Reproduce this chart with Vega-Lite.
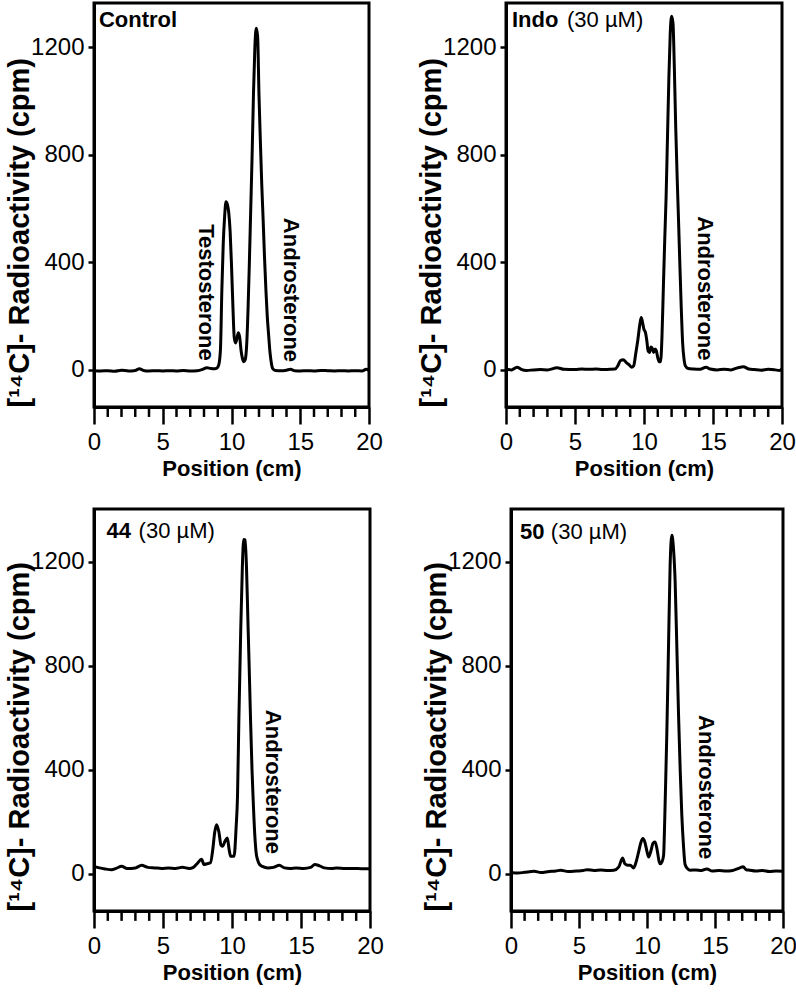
{
  "$schema": "https://vega.github.io/schema/vega-lite/v6.json",
  "background": "white",
  "padding": {"left": 3, "top": 1, "right": 0, "bottom": 0},
  "config": {
    "font": "Liberation Sans",
    "view": {"stroke": "black", "strokeWidth": 3},
    "axis": {"domainColor": "black", "domainWidth": 3, "tickColor": "black", "labelColor": "black", "titleColor": "black", "grid": false, "labelFont": "Liberation Sans", "titleFont": "Liberation Sans"},
    "text": {"font": "Liberation Sans", "fontSize": 22, "color": "black"}
  },
  "datasets": {
    "minor": [{"pos": 1}, {"pos": 2}, {"pos": 3}, {"pos": 4}, {"pos": 6}, {"pos": 7}, {"pos": 8}, {"pos": 9}, {"pos": 11}, {"pos": 12}, {"pos": 13}, {"pos": 14}, {"pos": 16}, {"pos": 17}, {"pos": 18}, {"pos": 19}],
    "control": [
      {"pos": 0, "cpm": -3}, {"pos": 0.5, "cpm": -4}, {"pos": 1, "cpm": -3}, {"pos": 1.5, "cpm": -5}, {"pos": 2, "cpm": -1}, {"pos": 2.5, "cpm": -4}, {"pos": 3, "cpm": -2}, {"pos": 3.3, "cpm": 4}, {"pos": 3.6, "cpm": -2}, {"pos": 4, "cpm": -4}, {"pos": 4.5, "cpm": -3}, {"pos": 5, "cpm": -4}, {"pos": 5.5, "cpm": -3}, {"pos": 6, "cpm": -4}, {"pos": 6.5, "cpm": -2}, {"pos": 7, "cpm": -4}, {"pos": 7.5, "cpm": -3}, {"pos": 7.9, "cpm": 2}, {"pos": 8.2, "cpm": 8}, {"pos": 8.5, "cpm": 5}, {"pos": 8.8, "cpm": 4}, {"pos": 9.0, "cpm": 10}, {"pos": 9.1, "cpm": 25}, {"pos": 9.2, "cpm": 80}, {"pos": 9.3, "cpm": 300}, {"pos": 9.4, "cpm": 470}, {"pos": 9.5, "cpm": 570}, {"pos": 9.6, "cpm": 625}, {"pos": 9.7, "cpm": 615}, {"pos": 9.8, "cpm": 585}, {"pos": 9.9, "cpm": 515}, {"pos": 10.0, "cpm": 390}, {"pos": 10.1, "cpm": 240}, {"pos": 10.2, "cpm": 120}, {"pos": 10.3, "cpm": 100}, {"pos": 10.4, "cpm": 118}, {"pos": 10.5, "cpm": 138}, {"pos": 10.6, "cpm": 120}, {"pos": 10.7, "cpm": 70}, {"pos": 10.8, "cpm": 42}, {"pos": 10.9, "cpm": 30}, {"pos": 11.0, "cpm": 38}, {"pos": 11.1, "cpm": 90}, {"pos": 11.2, "cpm": 220}, {"pos": 11.3, "cpm": 400}, {"pos": 11.4, "cpm": 600}, {"pos": 11.5, "cpm": 800}, {"pos": 11.6, "cpm": 1030}, {"pos": 11.7, "cpm": 1200}, {"pos": 11.8, "cpm": 1270}, {"pos": 11.9, "cpm": 1240}, {"pos": 12.0, "cpm": 1020}, {"pos": 12.1, "cpm": 850}, {"pos": 12.2, "cpm": 690}, {"pos": 12.3, "cpm": 560}, {"pos": 12.4, "cpm": 420}, {"pos": 12.5, "cpm": 300}, {"pos": 12.6, "cpm": 200}, {"pos": 12.7, "cpm": 130}, {"pos": 12.8, "cpm": 65}, {"pos": 12.9, "cpm": 25}, {"pos": 13.0, "cpm": 5}, {"pos": 13.2, "cpm": -2}, {"pos": 13.6, "cpm": -3}, {"pos": 14.0, "cpm": -1}, {"pos": 14.3, "cpm": 2}, {"pos": 14.6, "cpm": -3}, {"pos": 15, "cpm": -4}, {"pos": 15.5, "cpm": -3}, {"pos": 16, "cpm": -4}, {"pos": 16.5, "cpm": -2}, {"pos": 17, "cpm": -3}, {"pos": 17.5, "cpm": -4}, {"pos": 18, "cpm": -3}, {"pos": 18.5, "cpm": -4}, {"pos": 19, "cpm": -3}, {"pos": 19.5, "cpm": -4}, {"pos": 19.8, "cpm": 2}, {"pos": 20, "cpm": -2}
    ],
    "indo": [
      {"pos": 0, "cpm": 2}, {"pos": 0.4, "cpm": 0}, {"pos": 0.8, "cpm": 10}, {"pos": 1.1, "cpm": 2}, {"pos": 1.5, "cpm": -2}, {"pos": 2, "cpm": 0}, {"pos": 2.5, "cpm": 1}, {"pos": 3, "cpm": 0}, {"pos": 3.7, "cpm": 8}, {"pos": 4.2, "cpm": 2}, {"pos": 5, "cpm": 1}, {"pos": 5.5, "cpm": 3}, {"pos": 6, "cpm": 2}, {"pos": 6.5, "cpm": 3}, {"pos": 7, "cpm": 1}, {"pos": 7.5, "cpm": 2}, {"pos": 7.9, "cpm": 3}, {"pos": 8.1, "cpm": 15}, {"pos": 8.3, "cpm": 35}, {"pos": 8.5, "cpm": 38}, {"pos": 8.7, "cpm": 28}, {"pos": 8.9, "cpm": 20}, {"pos": 9.1, "cpm": 10}, {"pos": 9.25, "cpm": 15}, {"pos": 9.4, "cpm": 60}, {"pos": 9.55, "cpm": 110}, {"pos": 9.7, "cpm": 170}, {"pos": 9.8, "cpm": 195}, {"pos": 9.9, "cpm": 175}, {"pos": 10.0, "cpm": 150}, {"pos": 10.1, "cpm": 140}, {"pos": 10.2, "cpm": 110}, {"pos": 10.3, "cpm": 70}, {"pos": 10.4, "cpm": 65}, {"pos": 10.5, "cpm": 85}, {"pos": 10.6, "cpm": 80}, {"pos": 10.7, "cpm": 65}, {"pos": 10.8, "cpm": 78}, {"pos": 10.9, "cpm": 70}, {"pos": 11.0, "cpm": 45}, {"pos": 11.1, "cpm": 30}, {"pos": 11.2, "cpm": 30}, {"pos": 11.3, "cpm": 120}, {"pos": 11.4, "cpm": 300}, {"pos": 11.5, "cpm": 480}, {"pos": 11.6, "cpm": 640}, {"pos": 11.7, "cpm": 860}, {"pos": 11.8, "cpm": 1080}, {"pos": 11.9, "cpm": 1250}, {"pos": 12.0, "cpm": 1315}, {"pos": 12.1, "cpm": 1290}, {"pos": 12.2, "cpm": 1120}, {"pos": 12.3, "cpm": 900}, {"pos": 12.4, "cpm": 720}, {"pos": 12.5, "cpm": 560}, {"pos": 12.6, "cpm": 390}, {"pos": 12.7, "cpm": 230}, {"pos": 12.8, "cpm": 100}, {"pos": 12.9, "cpm": 40}, {"pos": 13.0, "cpm": 15}, {"pos": 13.2, "cpm": 5}, {"pos": 13.6, "cpm": 3}, {"pos": 14.0, "cpm": 2}, {"pos": 14.5, "cpm": 10}, {"pos": 14.8, "cpm": 3}, {"pos": 15.3, "cpm": 0}, {"pos": 15.8, "cpm": 2}, {"pos": 16.3, "cpm": 0}, {"pos": 16.8, "cpm": 8}, {"pos": 17.2, "cpm": 12}, {"pos": 17.6, "cpm": 3}, {"pos": 18, "cpm": 1}, {"pos": 18.5, "cpm": -1}, {"pos": 19, "cpm": 2}, {"pos": 19.5, "cpm": 0}, {"pos": 19.8, "cpm": -2}, {"pos": 20, "cpm": 4}
    ],
    "c44": [
      {"pos": 0, "cpm": 28}, {"pos": 0.4, "cpm": 22}, {"pos": 0.8, "cpm": 18}, {"pos": 1.27, "cpm": 15}, {"pos": 1.6, "cpm": 20}, {"pos": 2.0, "cpm": 28}, {"pos": 2.4, "cpm": 20}, {"pos": 3.0, "cpm": 22}, {"pos": 3.45, "cpm": 32}, {"pos": 3.9, "cpm": 24}, {"pos": 4.4, "cpm": 22}, {"pos": 4.9, "cpm": 20}, {"pos": 5.4, "cpm": 22}, {"pos": 5.9, "cpm": 20}, {"pos": 6.4, "cpm": 24}, {"pos": 6.9, "cpm": 20}, {"pos": 7.2, "cpm": 24}, {"pos": 7.47, "cpm": 38}, {"pos": 7.8, "cpm": 55}, {"pos": 7.96, "cpm": 35}, {"pos": 8.2, "cpm": 38}, {"pos": 8.44, "cpm": 42}, {"pos": 8.6, "cpm": 90}, {"pos": 8.75, "cpm": 160}, {"pos": 8.88, "cpm": 188}, {"pos": 9.05, "cpm": 160}, {"pos": 9.2, "cpm": 110}, {"pos": 9.3, "cpm": 105}, {"pos": 9.5, "cpm": 125}, {"pos": 9.66, "cpm": 137}, {"pos": 9.8, "cpm": 90}, {"pos": 9.9, "cpm": 67}, {"pos": 10.15, "cpm": 67}, {"pos": 10.3, "cpm": 180}, {"pos": 10.4, "cpm": 300}, {"pos": 10.5, "cpm": 600}, {"pos": 10.63, "cpm": 930}, {"pos": 10.75, "cpm": 1180}, {"pos": 10.85, "cpm": 1287}, {"pos": 10.95, "cpm": 1285}, {"pos": 11.05, "cpm": 1180}, {"pos": 11.15, "cpm": 980}, {"pos": 11.24, "cpm": 805}, {"pos": 11.35, "cpm": 580}, {"pos": 11.45, "cpm": 400}, {"pos": 11.53, "cpm": 290}, {"pos": 11.65, "cpm": 150}, {"pos": 11.75, "cpm": 80}, {"pos": 11.85, "cpm": 54}, {"pos": 12.0, "cpm": 35}, {"pos": 12.2, "cpm": 28}, {"pos": 12.6, "cpm": 22}, {"pos": 13.0, "cpm": 24}, {"pos": 13.43, "cpm": 32}, {"pos": 13.8, "cpm": 22}, {"pos": 14.2, "cpm": 20}, {"pos": 14.65, "cpm": 22}, {"pos": 15.2, "cpm": 20}, {"pos": 15.7, "cpm": 24}, {"pos": 16.0, "cpm": 35}, {"pos": 16.35, "cpm": 30}, {"pos": 16.7, "cpm": 22}, {"pos": 17.2, "cpm": 20}, {"pos": 17.6, "cpm": 22}, {"pos": 18.2, "cpm": 20}, {"pos": 18.8, "cpm": 20}, {"pos": 19.4, "cpm": 19}, {"pos": 20, "cpm": 19}
    ],
    "c50": [
      {"pos": 0, "cpm": 4}, {"pos": 0.5, "cpm": 2}, {"pos": 1.0, "cpm": 5}, {"pos": 1.7, "cpm": 9}, {"pos": 2.2, "cpm": 4}, {"pos": 2.8, "cpm": 8}, {"pos": 3.3, "cpm": 10}, {"pos": 3.66, "cpm": 13}, {"pos": 4.2, "cpm": 8}, {"pos": 4.8, "cpm": 10}, {"pos": 5.3, "cpm": 12}, {"pos": 5.6, "cpm": 15}, {"pos": 6.1, "cpm": 12}, {"pos": 6.6, "cpm": 14}, {"pos": 7.1, "cpm": 12}, {"pos": 7.56, "cpm": 13}, {"pos": 7.93, "cpm": 26}, {"pos": 8.1, "cpm": 50}, {"pos": 8.2, "cpm": 60}, {"pos": 8.37, "cpm": 38}, {"pos": 8.6, "cpm": 32}, {"pos": 8.78, "cpm": 32}, {"pos": 9.02, "cpm": 22}, {"pos": 9.2, "cpm": 45}, {"pos": 9.39, "cpm": 85}, {"pos": 9.55, "cpm": 120}, {"pos": 9.7, "cpm": 135}, {"pos": 9.85, "cpm": 120}, {"pos": 10.0, "cpm": 85}, {"pos": 10.12, "cpm": 64}, {"pos": 10.3, "cpm": 90}, {"pos": 10.45, "cpm": 118}, {"pos": 10.6, "cpm": 122}, {"pos": 10.75, "cpm": 90}, {"pos": 10.9, "cpm": 45}, {"pos": 10.98, "cpm": 38}, {"pos": 11.1, "cpm": 45}, {"pos": 11.22, "cpm": 70}, {"pos": 11.3, "cpm": 200}, {"pos": 11.38, "cpm": 370}, {"pos": 11.46, "cpm": 546}, {"pos": 11.58, "cpm": 870}, {"pos": 11.7, "cpm": 1187}, {"pos": 11.83, "cpm": 1303}, {"pos": 11.95, "cpm": 1250}, {"pos": 12.07, "cpm": 1123}, {"pos": 12.2, "cpm": 860}, {"pos": 12.32, "cpm": 610}, {"pos": 12.44, "cpm": 400}, {"pos": 12.56, "cpm": 225}, {"pos": 12.68, "cpm": 110}, {"pos": 12.8, "cpm": 35}, {"pos": 13.0, "cpm": 18}, {"pos": 13.17, "cpm": 13}, {"pos": 13.6, "cpm": 14}, {"pos": 14.0, "cpm": 12}, {"pos": 14.4, "cpm": 18}, {"pos": 14.8, "cpm": 10}, {"pos": 15.3, "cpm": 12}, {"pos": 15.8, "cpm": 10}, {"pos": 16.3, "cpm": 12}, {"pos": 16.83, "cpm": 22}, {"pos": 17.07, "cpm": 26}, {"pos": 17.3, "cpm": 15}, {"pos": 17.56, "cpm": 13}, {"pos": 18.0, "cpm": 10}, {"pos": 18.5, "cpm": 12}, {"pos": 19.0, "cpm": 8}, {"pos": 19.5, "cpm": 10}, {"pos": 20, "cpm": 9}
    ]
  },
  "spacing": 26,
  "vconcat": [
    {
      "spacing": 31,
      "hconcat": [
        {
          "width": 275, "height": 404,
          "layer": [
            {
              "data": {"name": "control"},
              "mark": {"type": "line", "color": "black", "strokeWidth": 3, "interpolate": "monotone"},
              "encoding": {
                "x": {"field": "pos", "type": "quantitative", "title": "Position (cm)", "scale": {"domain": [0, 20], "nice": false},
                  "axis": {"values": [0, 5, 10, 15, 20], "tickSize": 17, "tickWidth": 2.5, "labelFontSize": 24, "labelPadding": 6, "labelFlush": false, "labelOverlap": false, "titleFontSize": 22, "titleFontWeight": "bold", "minExtent": 45, "maxExtent": 45, "titlePadding": 6}},
                "y": {"field": "cpm", "type": "quantitative", "title": "[¹⁴C]- Radioactivity (cpm)", "scale": {"domain": [-138, 1364], "nice": false, "zero": false},
                  "axis": {"values": [0, 400, 800, 1200], "format": "d", "tickSize": 6, "tickWidth": 2.5, "labelFontSize": 24, "labelPadding": 4, "titleFontSize": 29, "titleFontWeight": "bold", "titleAnchor": "start", "minExtent": 60, "maxExtent": 60, "titlePadding": 0}}
              }
            },
            {"data": {"name": "minor"}, "mark": {"type": "rule", "color": "black", "strokeWidth": 2.5}, "encoding": {"x": {"field": "pos", "type": "quantitative"}, "y": {"datum": -138}, "y2": {"datum": -175}}},
            {"data": {"values": [{}]}, "mark": {"type": "text", "fontWeight": "bold", "align": "left", "baseline": "middle"}, "encoding": {"x": {"datum": 0.36}, "y": {"datum": 1300}, "text": {"value": "Control"}}},
            {"data": {"values": [{}]}, "mark": {"type": "text", "fontWeight": "bold", "angle": 90, "align": "center", "baseline": "middle"}, "encoding": {"x": {"datum": 8.18}, "y": {"datum": 288}, "text": {"value": "Testosterone"}}},
            {"data": {"values": [{}]}, "mark": {"type": "text", "fontWeight": "bold", "angle": 90, "align": "center", "baseline": "middle"}, "encoding": {"x": {"datum": 14.36}, "y": {"datum": 297}, "text": {"value": "Androsterone"}}}
          ]
        },
        {
          "width": 276, "height": 404,
          "layer": [
            {
              "data": {"name": "indo"},
              "mark": {"type": "line", "color": "black", "strokeWidth": 3, "interpolate": "monotone"},
              "encoding": {
                "x": {"field": "pos", "type": "quantitative", "title": "Position (cm)", "scale": {"domain": [0, 20], "nice": false},
                  "axis": {"values": [0, 5, 10, 15, 20], "tickSize": 17, "tickWidth": 2.5, "labelFontSize": 24, "labelPadding": 6, "labelFlush": false, "labelOverlap": false, "titleFontSize": 22, "titleFontWeight": "bold", "minExtent": 45, "maxExtent": 45, "titlePadding": 6}},
                "y": {"field": "cpm", "type": "quantitative", "title": "[¹⁴C]- Radioactivity (cpm)", "scale": {"domain": [-138, 1364], "nice": false, "zero": false},
                  "axis": {"values": [0, 400, 800, 1200], "format": "d", "tickSize": 6, "tickWidth": 2.5, "labelFontSize": 24, "labelPadding": 4, "titleFontSize": 29, "titleFontWeight": "bold", "titleAnchor": "start", "minExtent": 60, "maxExtent": 60, "titlePadding": 0}}
              }
            },
            {"data": {"name": "minor"}, "mark": {"type": "rule", "color": "black", "strokeWidth": 2.5}, "encoding": {"x": {"field": "pos", "type": "quantitative"}, "y": {"datum": -138}, "y2": {"datum": -175}}},
            {"data": {"values": [{}]}, "mark": {"type": "text", "fontWeight": "bold", "align": "left", "baseline": "middle"}, "encoding": {"x": {"datum": 0.43}, "y": {"datum": 1300}, "text": {"value": "Indo"}}},
            {"data": {"values": [{}]}, "mark": {"type": "text", "align": "left", "baseline": "middle"}, "encoding": {"x": {"datum": 4.42}, "y": {"datum": 1300}, "text": {"value": "(30 µM)"}}},
            {"data": {"values": [{}]}, "mark": {"type": "text", "fontWeight": "bold", "angle": 90, "align": "center", "baseline": "middle"}, "encoding": {"x": {"datum": 14.42}, "y": {"datum": 303}, "text": {"value": "Androsterone"}}}
          ]
        }
      ]
    },
    {
      "spacing": 35,
      "hconcat": [
        {
          "width": 276, "height": 402,
          "layer": [
            {
              "data": {"name": "c44"},
              "mark": {"type": "line", "color": "black", "strokeWidth": 3, "interpolate": "monotone"},
              "encoding": {
                "x": {"field": "pos", "type": "quantitative", "title": "Position (cm)", "scale": {"domain": [0, 20], "nice": false},
                  "axis": {"values": [0, 5, 10, 15, 20], "tickSize": 17, "tickWidth": 2.5, "labelFontSize": 24, "labelPadding": 6, "labelFlush": false, "labelOverlap": false, "titleFontSize": 22, "titleFontWeight": "bold", "minExtent": 45, "maxExtent": 45, "titlePadding": 6}},
                "y": {"field": "cpm", "type": "quantitative", "title": "[¹⁴C]- Radioactivity (cpm)", "scale": {"domain": [-144, 1404], "nice": false, "zero": false},
                  "axis": {"values": [0, 400, 800, 1200], "format": "d", "tickSize": 6, "tickWidth": 2.5, "labelFontSize": 24, "labelPadding": 4, "titleFontSize": 29, "titleFontWeight": "bold", "titleAnchor": "start", "minExtent": 60, "maxExtent": 60, "titlePadding": 0}}
              }
            },
            {"data": {"name": "minor"}, "mark": {"type": "rule", "color": "black", "strokeWidth": 2.5}, "encoding": {"x": {"field": "pos", "type": "quantitative"}, "y": {"datum": -144}, "y2": {"datum": -182}}},
            {"data": {"values": [{}]}, "mark": {"type": "text", "fontWeight": "bold", "align": "left", "baseline": "middle"}, "encoding": {"x": {"datum": 0.9}, "y": {"datum": 1320}, "text": {"value": "44"}}},
            {"data": {"values": [{}]}, "mark": {"type": "text", "align": "left", "baseline": "middle"}, "encoding": {"x": {"datum": 3.23}, "y": {"datum": 1320}, "text": {"value": "(30 µM)"}}},
            {"data": {"values": [{}]}, "mark": {"type": "text", "fontWeight": "bold", "angle": 90, "align": "center", "baseline": "middle"}, "encoding": {"x": {"datum": 12.94}, "y": {"datum": 353}, "text": {"value": "Androsterone"}}}
          ]
        },
        {
          "width": 272, "height": 402,
          "layer": [
            {
              "data": {"name": "c50"},
              "mark": {"type": "line", "color": "black", "strokeWidth": 3, "interpolate": "monotone"},
              "encoding": {
                "x": {"field": "pos", "type": "quantitative", "title": "Position (cm)", "scale": {"domain": [0, 20], "nice": false},
                  "axis": {"values": [0, 5, 10, 15, 20], "tickSize": 17, "tickWidth": 2.5, "labelFontSize": 24, "labelPadding": 6, "labelFlush": false, "labelOverlap": false, "titleFontSize": 22, "titleFontWeight": "bold", "minExtent": 45, "maxExtent": 45, "titlePadding": 6}},
                "y": {"field": "cpm", "type": "quantitative", "title": "[¹⁴C]- Radioactivity (cpm)", "scale": {"domain": [-144, 1404], "nice": false, "zero": false},
                  "axis": {"values": [0, 400, 800, 1200], "format": "d", "tickSize": 6, "tickWidth": 2.5, "labelFontSize": 24, "labelPadding": 4, "titleFontSize": 29, "titleFontWeight": "bold", "titleAnchor": "start", "minExtent": 60, "maxExtent": 60, "titlePadding": 0}}
              }
            },
            {"data": {"name": "minor"}, "mark": {"type": "rule", "color": "black", "strokeWidth": 2.5}, "encoding": {"x": {"field": "pos", "type": "quantitative"}, "y": {"datum": -144}, "y2": {"datum": -182}}},
            {"data": {"values": [{}]}, "mark": {"type": "text", "fontWeight": "bold", "align": "left", "baseline": "middle"}, "encoding": {"x": {"datum": 0.66}, "y": {"datum": 1315}, "text": {"value": "50"}}},
            {"data": {"values": [{}]}, "mark": {"type": "text", "align": "left", "baseline": "middle"}, "encoding": {"x": {"datum": 2.93}, "y": {"datum": 1315}, "text": {"value": "(30 µM)"}}},
            {"data": {"values": [{}]}, "mark": {"type": "text", "fontWeight": "bold", "angle": 90, "align": "center", "baseline": "middle"}, "encoding": {"x": {"datum": 14.36}, "y": {"datum": 333}, "text": {"value": "Androsterone"}}}
          ]
        }
      ]
    }
  ]
}
